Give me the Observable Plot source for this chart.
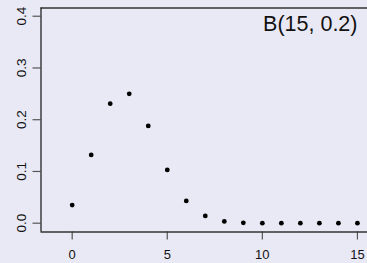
<!DOCTYPE html>
<html><head><meta charset="utf-8">
<script src="https://cdn.jsdelivr.net/npm/d3@7"></script>
<script src="https://cdn.jsdelivr.net/npm/@observablehq/plot@0.6"></script>
<style>
html,body{margin:0;padding:0;background:#e9e9f5;overflow:hidden;}
svg{display:block;}
</style></head><body>
<div id="chart"></div>
<script>
const k = [0,1,2,3,4,5,6,7,8,9,10,11,12,13,14,15];
const prob = [0.035,0.132,0.231,0.250,0.188,0.103,0.043,0.014,0.0035,0.0007,0.0001,0,0,0,0,0];
const xTicks = [0,5,10,15];
const yTicks = [0,0.1,0.2,0.3,0.4];
const label = "B(15, 0.2)";
const xDom = [-1.64, 15.53];
const yDom = [-0.017, 0.4159];

const data = k.map((v,i)=>({k:v,p:prob[i]}));
const chart = Plot.plot({
  width: 367, height: 263,
  marginLeft: 40.5, marginTop: 7.5, marginBottom: 31.5, marginRight: 0,
  style: {background: "#e9e9f5", fontFamily: "'Liberation Sans', Arial, sans-serif", fontSize: "13.5px", color: "#111"},
  x: {domain: xDom, label: null},
  y: {domain: yDom, label: null},
  marks: [
    Plot.axisX({ticks: xTicks, tickSize: 8, tickPadding: 10, stroke: "#555", strokeWidth: 1.2, fill: "#111", fontSize: 13, label: null}),
    Plot.axisY({ticks: yTicks, tickSize: 8, tickFormat: ".1f", tickRotate: -90, tickPadding: 7.5, stroke: "#555", strokeWidth: 1.2, fill: "#111", fontSize: 13.5, label: null}),
    Plot.ruleY([yDom[0], yDom[1]], {stroke: "#333", strokeWidth: 1.3}),
    Plot.ruleX([xDom[0]], {stroke: "#222", strokeWidth: 1.3}),
    Plot.dot(data, {x: "k", y: "p", r: 2.4, fill: "black", stroke: "none"}),
    Plot.text([label], {frameAnchor: "top-right", dx: -10, dy: 8, fontSize: 21.5, fill: "#111", textAnchor: "end", lineAnchor: "top"})
  ]
});
document.getElementById("chart").appendChild(chart);
</script>
</body></html>
